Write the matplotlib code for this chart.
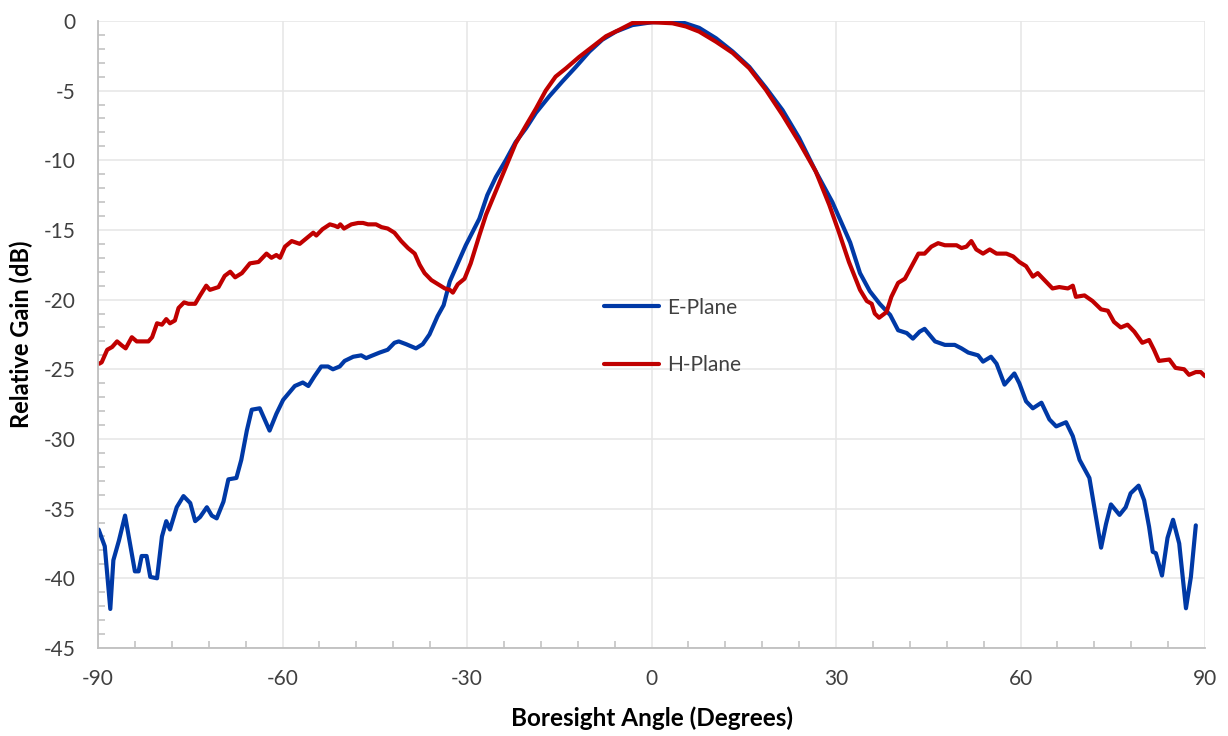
import numpy as np
import matplotlib.pyplot as plt

plt.rcParams["font.family"] = ["Lato", "DejaVu Sans"]
plt.rcParams["axes.unicode_minus"] = False

# E-Plane (blue), angle in degrees / relative gain in dB
e_angle = [-89.9, -88.9, -88.0, -87.5, -86.6, -85.6, -84.8, -84.0, -83.4, -82.9,
           -82.1, -81.5, -80.4, -79.6, -78.9, -78.3, -77.2, -76.1, -75.0, -74.2,
           -73.4, -72.3, -71.5, -70.7, -69.6, -68.8, -67.5, -66.7, -65.8, -65.0,
           -63.7, -62.9, -62.1, -61.0, -59.9, -58.0, -56.7, -55.8, -54.8, -53.7,
           -52.6, -51.8, -50.7, -49.9, -48.5, -47.2, -46.4, -45.6, -44.2, -42.9,
           -41.8, -41.1, -39.9, -38.3, -37.2, -36.1, -34.8, -33.8, -32.8, -31.5,
           -30.2, -28.0, -26.7, -25.3, -23.7, -22.1, -20.4, -18.8, -16.6, -14.5,
           -12.3, -10.1, -8.0, -5.8, -3.1, 0.0, 2.3, 5.0, 7.75, 10.5,
           13.2, 15.9, 18.6, 21.3, 24.0, 26.7, 29.4, 31.0, 32.3, 33.9,
           35.5, 37.1, 38.8, 40.1, 41.5, 42.5, 43.6, 44.4, 46.1, 47.7,
           49.3, 50.4, 51.5, 53.1, 53.9, 55.2, 56.1, 57.4, 59.0, 59.8,
           60.9, 62.0, 63.4, 64.7, 65.8, 67.4, 68.5, 69.6, 71.2, 72.0,
           73.1, 73.9, 74.7, 76.1, 77.1, 77.9, 79.2, 80.1, 80.9, 81.5,
           82.0, 83.0, 83.9, 84.8, 85.8, 86.9, 87.7, 88.5]
e_gain = [-36.5, -37.7, -42.2, -38.7, -37.3, -35.5, -37.5, -39.5, -39.5, -38.4,
          -38.4, -39.9, -40.0, -37.0, -35.9, -36.5, -34.9, -34.1, -34.6, -35.9,
          -35.6, -34.9, -35.5, -35.7, -34.5, -32.9, -32.8, -31.5, -29.4, -27.9,
          -27.8, -28.6, -29.4, -28.2, -27.2, -26.2, -25.95, -26.2, -25.5, -24.8,
          -24.8, -25.0, -24.8, -24.4, -24.1, -24.0, -24.2, -24.05, -23.8, -23.6,
          -23.1, -23.0, -23.2, -23.5, -23.2, -22.5, -21.2, -20.4, -18.7, -17.4,
          -16.1, -14.2, -12.5, -11.2, -10.0, -8.7, -7.7, -6.6, -5.4, -4.35,
          -3.3, -2.2, -1.35, -0.77, -0.3, -0.1, -0.05, -0.1, -0.5, -1.25,
          -2.2, -3.3, -4.8, -6.4, -8.4, -10.8, -13.0, -14.6, -15.9, -18.1,
          -19.4, -20.3, -21.1, -22.2, -22.4, -22.8, -22.3, -22.1, -23.0, -23.25,
          -23.25, -23.5, -23.8, -24.0, -24.45, -24.1, -24.6, -26.1, -25.3, -26.0,
          -27.3, -27.8, -27.4, -28.6, -29.1, -28.8, -29.8, -31.5, -32.8, -34.9,
          -37.8, -36.1, -34.7, -35.45, -34.9, -33.9, -33.35, -34.4, -36.3, -38.1,
          -38.2, -39.8, -37.1, -35.8, -37.5, -42.15, -39.9, -36.2]

# H-Plane (red)
h_angle = [-89.8, -89.4, -88.5, -87.7, -86.9, -86.1, -85.5, -84.5, -83.7, -81.8,
           -81.2, -80.4, -79.6, -78.9, -78.3, -77.5, -76.9, -76.0, -75.3, -74.2,
           -73.4, -72.4, -71.8, -70.4, -69.4, -68.5, -67.7, -66.6, -65.3, -63.9,
           -62.6, -61.8, -61.0, -60.4, -59.6, -58.5, -57.2, -56.1, -55.0, -54.5,
           -53.5, -52.3, -51.5, -51.0, -50.6, -50.0, -48.8, -47.7, -46.9, -46.1,
           -44.8, -43.9, -42.9, -41.8, -40.7, -39.6, -38.5, -37.7, -36.9, -35.8,
           -34.7, -33.6, -32.8, -32.3, -31.5, -30.4, -29.4, -28.0, -26.9, -25.3,
           -23.7, -22.1, -20.4, -18.8, -17.2, -15.6, -13.9, -11.8, -9.6, -7.4,
           -5.3, -3.1, 0.2, 3.4, 5.6, 7.75, 10.5, 13.2, 15.9, 18.6,
           21.3, 24.0, 26.7, 28.9, 30.5, 32.1, 33.9, 35.0, 35.8, 36.3,
           37.0, 38.2, 39.0, 40.1, 41.2, 42.3, 43.4, 44.4, 45.5, 46.6,
           47.7, 48.5, 49.6, 50.4, 51.2, 52.0, 52.8, 53.9, 55.0, 56.1,
           57.7, 58.8, 59.8, 60.9, 62.0, 62.8, 63.9, 65.2, 66.3, 67.7,
           68.5, 69.0, 70.4, 71.7, 73.1, 74.2, 75.2, 76.3, 77.4, 78.5,
           79.8, 80.9, 81.7, 82.5, 84.2, 85.2, 86.6, 87.4, 88.5, 89.3, 90.0]
h_gain = [-24.6, -24.5, -23.6, -23.4, -23.0, -23.3, -23.5, -22.7, -23.0, -23.0,
          -22.7, -21.7, -21.8, -21.4, -21.7, -21.5, -20.6, -20.2, -20.3, -20.3,
          -19.7, -19.0, -19.3, -19.1, -18.3, -18.0, -18.4, -18.1, -17.4, -17.3,
          -16.7, -17.0, -16.8, -17.0, -16.2, -15.8, -16.0, -15.6, -15.2, -15.4,
          -14.95, -14.6, -14.7, -14.8, -14.6, -14.9, -14.6, -14.5, -14.5, -14.6,
          -14.6, -14.8, -14.9, -15.2, -15.8, -16.3, -16.7, -17.5, -18.1, -18.6,
          -18.9, -19.2, -19.3, -19.5, -18.9, -18.5, -17.4, -15.4, -13.9, -12.2,
          -10.5, -8.8, -7.5, -6.3, -5.0, -4.0, -3.4, -2.6, -1.85, -1.1,
          -0.65, -0.15, -0.1, -0.17, -0.4, -0.77, -1.5, -2.3, -3.4, -4.95,
          -6.75, -8.7, -10.8, -13.2, -15.2, -17.3, -19.3, -20.1, -20.3, -21.0,
          -21.3, -20.9, -19.8, -18.8, -18.5, -17.6, -16.7, -16.7, -16.2, -15.95,
          -16.1, -16.1, -16.1, -16.3, -16.2, -15.8, -16.4, -16.7, -16.4, -16.7,
          -16.7, -16.9, -17.3, -17.6, -18.35, -18.1, -18.6, -19.2, -19.1, -19.2,
          -19.0, -19.8, -19.7, -20.1, -20.7, -20.8, -21.6, -22.0, -21.8, -22.3,
          -23.1, -22.9, -23.6, -24.4, -24.3, -24.9, -25.0, -25.4, -25.2, -25.2, -25.5]

fig = plt.figure(figsize=(12.28, 7.36), dpi=100)
ax = fig.add_axes([0.0798, 0.1196, 0.9015, 0.852])

ax.plot(e_angle, e_gain, color="#0039A6", lw=3.0, label="E-Plane",
        solid_joinstyle="round", solid_capstyle="round")
ax.plot(h_angle, h_gain, color="#C00000", lw=3.0, label="H-Plane",
        solid_joinstyle="round", solid_capstyle="round")

ax.set_xlim(-90, 90)
ax.set_ylim(-45, 0)
ax.set_xticks(np.arange(-90, 91, 30))
ax.set_yticks(np.arange(-45, 1, 5))
ax.set_xticks(np.arange(-90, 91, 6), minor=True)
ax.set_yticks(np.arange(-45, 1, 1), minor=True)
ax.grid(True, which="major", color="#E6E6E6", lw=1.1)
ax.set_axisbelow(True)

for s in ["top", "right"]:
    ax.spines[s].set_visible(False)
for s in ["left", "bottom"]:
    ax.spines[s].set_color("#BFBFBF")
    ax.spines[s].set_linewidth(1.3)

ax.tick_params(which="major", length=0, labelsize=15, labelcolor="#404040")
ax.tick_params(axis="x", which="major", pad=15)
ax.tick_params(axis="y", which="major", pad=16)
ax.tick_params(which="minor", direction="in", length=5, color="#BFBFBF", width=1.1)

ax.set_xlabel("Boresight Angle (Degrees)", fontsize=17.5, fontweight="bold", labelpad=13)
ax.set_ylabel("Relative Gain (dB)", fontsize=17, fontweight="bold", labelpad=8)

ax.legend(loc="center left", bbox_to_anchor=(0.457, 0.497), frameon=False,
          fontsize=15, handlelength=2.65, handletextpad=0.4, labelspacing=1.8,
          borderpad=0, borderaxespad=0, labelcolor="#404040")

fig.savefig("out.png", dpi=100)
